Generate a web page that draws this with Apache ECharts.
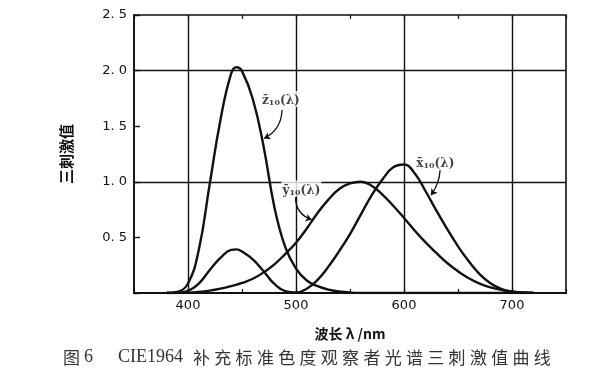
<!DOCTYPE html>
<html><head><meta charset="utf-8">
<script src="https://cdn.jsdelivr.net/npm/echarts@6/dist/echarts.min.js"></script>
<style>html,body{margin:0;padding:0;background:#fff}#c{width:600px;height:375px}</style>
</head><body><div id="c"></div>
<script>
// wavelengths (nm)
const wavelengths = [380,390,400,410,420,430,440,445,450,460,470,480,490,500,510,520,530,540,550,560,570,580,590,600,610,620,630,640,650,660,670,680,690,700,710,720];
const xBar = [0.0002,0.0024,0.019,0.085,0.205,0.315,0.388,0.392,0.373,0.302,0.196,0.081,0.016,0.004,0.038,0.118,0.237,0.377,0.530,0.705,0.879,1.020,1.130,1.155,1.075,0.915,0.740,0.575,0.420,0.285,0.170,0.088,0.038,0.013,0.004,0.001];
const yBar = [0.0,0.0003,0.002,0.009,0.021,0.039,0.062,0.075,0.090,0.128,0.185,0.258,0.350,0.452,0.580,0.720,0.840,0.935,0.985,1.000,0.965,0.885,0.785,0.675,0.560,0.455,0.360,0.270,0.195,0.132,0.084,0.050,0.028,0.012,0.004,0.001];
const zBar = [0.0007,0.0105,0.086,0.389,0.973,1.554,1.975,2.030,1.995,1.745,1.318,0.772,0.415,0.219,0.112,0.061,0.031,0.014,0.004,0.0,0.0,0.0,0.0,0.0,0.0,0.0,0.0,0.0,0.0,0.0,0.0,0.0,0.0,0.0,0.0,0.0];

const xTickLabels = [400,500,600,700];
const yTickLabels = {0.5:'0. 5',1:'1. 0',1.5:'1. 5',2:'2. 0',2.5:'2. 5'};
const vGridLines = [400,500,600,700];
const hGridLines = [1.0,2.0];

const annoNames = ['z','y','x'];
const annoLabelPos = [[486,1.745],[505,0.94],[629,1.175]];
const annoArrowFrom = [[487,1.645],[499.5,0.86],[633.5,1.11]];
const annoArrowTo = [[470.5,1.39],[514.5,0.66],[625,0.88]];
const annoCurveness = [0.3,-0.35,0.15];

const xTitle = '波长 λ /nm';
const yTitle = '三刺激值';
const captionHead = '图';
const captionNum = '6';
const captionCode = 'CIE1964';
const captionText = '补充标准色度观察者光谱三刺激值曲线';

function pairs(vals){ return wavelengths.map((w,i)=>[w, vals[i]]); }

const curveStyle = {color:'#111', width:2.4};
const mkCurve = (vals)=>({type:'line', data:pairs(vals), smooth:0.45, showSymbol:false, symbol:'none', lineStyle:curveStyle, itemStyle:{color:'#111'}, z:5, silent:true});

const chart = echarts.init(document.getElementById('c'), null, {renderer:'canvas'});

const graphics = [];
graphics.push({type:'text', left:63, top:349, style:{text:captionHead, font:'17px "Noto Sans CJK SC"', fill:'#333'}});
graphics.push({type:'text', left:84, top:348, style:{text:captionNum, font:'18px "Liberation Serif"', fill:'#333'}});
graphics.push({type:'text', left:118, top:348, style:{text:captionCode, font:'18px "Liberation Serif"', fill:'#333'}});
for (let i=0;i<captionText.length;i++){
  graphics.push({type:'text', left:193+i*21.3, top:349, style:{text:captionText[i], font:'17px "Noto Sans CJK SC"', fill:'#333'}});
}

const labelRich = {
  v:{fontFamily:'DejaVu Serif', fontSize:12, fontWeight:'bold', color:'#111', lineHeight:16, verticalAlign:'bottom'},
  s:{fontFamily:'DejaVu Serif', fontSize:8, fontWeight:'bold', color:'#111', lineHeight:12, verticalAlign:'bottom'}
};

chart.setOption({
  animation:false,
  backgroundColor:'#fff',
  grid:{left:134, right:34, top:15, bottom:82, show:true, borderColor:'#111', borderWidth:1.6, containLabel:false},
  xAxis:[{
    type:'value', min:350, max:750, interval:50,
    axisLine:{show:true, lineStyle:{color:'#111', width:2}},
    axisTick:{show:true, inside:true, length:4, lineStyle:{color:'#111', width:1.2}},
    axisLabel:{formatter:v=>xTickLabels.includes(v)?String(v):'', color:'#111', fontFamily:'DejaVu Sans', fontSize:13, margin:6},
    splitLine:{show:false},
    name:xTitle, nameLocation:'middle', nameGap:34,
    nameTextStyle:{fontFamily:'Noto Sans CJK SC', fontSize:14, fontWeight:'bold', color:'#111'}
  },{
    type:'value', min:350, max:750, interval:50, position:'top',
    axisLine:{show:false},
    axisTick:{show:true, inside:true, length:4, lineStyle:{color:'#111', width:1.2}},
    axisLabel:{show:false}, splitLine:{show:false}
  }],
  yAxis:{
    type:'value', min:0, max:2.5, interval:0.5,
    axisLine:{show:true, lineStyle:{color:'#111', width:1.6}},
    axisTick:{show:true, inside:true, length:6, lineStyle:{color:'#111', width:1.4}},
    axisLabel:{formatter:v=>yTickLabels[v]||'', color:'#111', fontFamily:'DejaVu Sans', fontSize:13, margin:7},
    splitLine:{show:false},
    name:yTitle, nameLocation:'middle', nameGap:60, nameRotate:90,
    nameTextStyle:{fontFamily:'Noto Sans CJK SC', fontSize:15, fontWeight:'bold', color:'#111'}
  },
  series:[
    {type:'line', data:[], silent:true,
     markLine:{silent:true, symbol:'none', label:{show:false}, lineStyle:{color:'#111', width:1.4, type:'solid'},
       data:[...vGridLines.map(v=>({xAxis:v})), ...hGridLines.map(v=>({yAxis:v}))]}, z:1},
    mkCurve(zBar), mkCurve(yBar), mkCurve(xBar),
    {type:'lines', coordinateSystem:'cartesian2d', silent:true, z:6,
     symbol:['none','arrow'], symbolSize:6,
     data:annoArrowFrom.map((f,i)=>({coords:[f, annoArrowTo[i]], lineStyle:{curveness:annoCurveness[i]}})),
     lineStyle:{color:'#111', width:1.3, opacity:1}},
    {type:'scatter', silent:true, symbolSize:0, z:7,
     data:annoLabelPos.map((p,i)=>({value:p, name:annoNames[i]})),
     label:{show:true, position:'inside', backgroundColor:'#fff', padding:[0,1],
       formatter:p=>'{v|'+p.name+'\u0304}{s|10}{v|(λ)}', rich:labelRich}}
  ],
  graphic:graphics
});
</script></body></html>
